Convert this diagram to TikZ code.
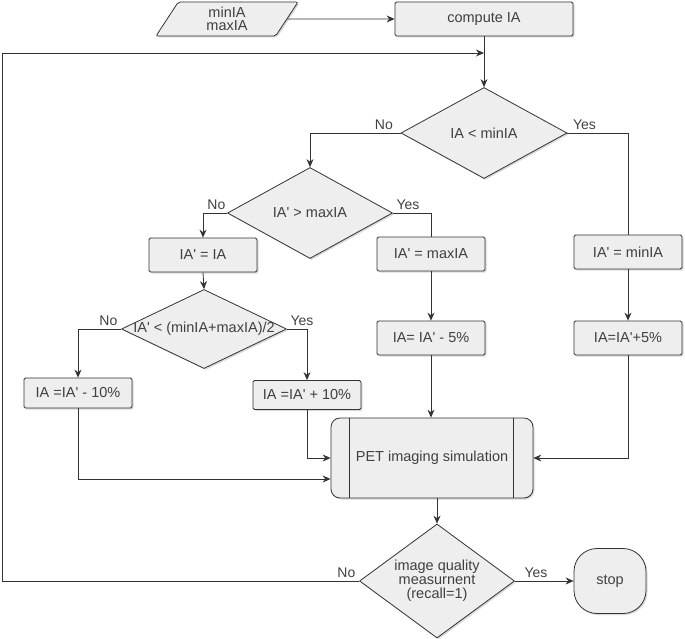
\documentclass[tikz,border=0pt]{standalone}
\usepackage{fontspec}
\setmainfont{Liberation Sans}
\usetikzlibrary{shapes.geometric,arrows.meta,shadows}

\definecolor{boxfill}{HTML}{EEEEEE}
\definecolor{linecol}{HTML}{333333}
\definecolor{txtcol}{HTML}{404040}

\tikzset{
  base/.style={draw=linecol, thick, fill=boxfill, text=txtcol,
    font=\fontsize{14.5}{16}\selectfont,
    drop shadow={shadow xshift=1.5pt, shadow yshift=-1.5pt, opacity=0.3}},
  proc/.style={base, rectangle, rounded corners=1.5pt, minimum width=108pt, minimum height=34pt},
  io/.style={base, trapezium, trapezium left angle=49, trapezium right angle=131,
    trapezium stretches body, rounded corners=2pt, minimum width=142pt, minimum height=34pt,
    align=center, inner sep=1pt},
  decide/.style={base, diamond, inner sep=0pt, align=center},
  term/.style={base, rectangle, rounded corners=23pt, minimum width=72pt, minimum height=65pt},
  flow/.style={draw=linecol, thick, -{Stealth[length=8pt,width=7pt]}},
  line/.style={draw=linecol, thick},
  lbl/.style={text=txtcol, font=\fontsize{14}{16}\selectfont}
}

% text of a diamond may run over its width
\newcommand{\dtext}[1]{\makebox[0pt]{#1}}
% straight prime
\newcommand{\pr}{\textquotesingle}

\begin{document}
\begin{tikzpicture}[x=1pt,y=1pt]

  \useasboundingbox (0,0) rectangle (685,-639);

  % Start
  \node[io] (input) at (227,-19) {minIA\\[-3pt]maxIA};
  \node[proc, minimum width=178pt] (compute) at (484,-19) {compute IA};

  % First test
  \node[decide, minimum width=166pt, minimum height=91pt] (lowtest) at (484,-133) {\dtext{IA < minIA}};
  \node[decide, minimum width=165pt, minimum height=91pt] (hightest) at (310,-213) {\dtext{IA\pr{} > maxIA}};

  % Clipping of IA
  \node[proc] (keep) at (203,-255) {IA\pr{} = IA};
  \node[proc] (setmax) at (431,-254) {IA\pr{} = maxIA};
  \node[proc] (setmin) at (628,-252) {IA\pr{} = minIA};

  % Middle test
  \node[decide, minimum width=165pt, minimum height=79pt] (midtest) at (204,-329) {\dtext{IA\pr{} < (minIA+maxIA)/2}};

  % Updates
  \node[proc, minimum height=30pt] (minusten) at (78,-393) {IA =IA\pr{} - 10\%};
  \node[proc, minimum height=29pt] (plusten) at (307,-395) {IA =IA\pr{} + 10\%};
  \node[proc] (minusfive) at (431,-338) {IA= IA\pr{} - 5\%};
  \node[proc] (plusfive) at (628,-338) {IA=IA\pr{}+5\%};

  % Simulation (process box with side bars)
  \node[base, rectangle, rounded corners=9pt, minimum width=202pt, minimum height=80pt] (pet) at (432,-458) {PET imaging simulation};
  \draw[line] ([xshift=19pt]pet.north west) -- ([xshift=19pt]pet.south west);
  \draw[line] ([xshift=-20pt]pet.north east) -- ([xshift=-20pt]pet.south east);

  % Quality test and end
  \node[decide, minimum width=155pt, minimum height=114pt] (quality) at (437,-581)
    {\dtext{\begin{tabular}{@{}c@{}}image quality\\[-2pt]measurnent\\[-2pt](recall=1)\end{tabular}}};
  \node[term] (stop) at (610,-581) {stop};

  % Loop back point
  \coordinate (back) at (484,-53);

  % Connectors
  \draw[flow] (input.east) -- (compute.west);
  \draw[flow] (compute.south) -- (lowtest.north);
  \draw[flow] (lowtest.west) node[lbl, above left, xshift=-4pt] {No} -| (hightest.north);
  \draw[line] (lowtest.east) node[lbl, above right, xshift=2pt] {Yes} -| (setmin.north);
  \draw[flow] (hightest.west) node[lbl, above left, xshift=2pt] {No} -| (keep.north);
  \draw[line] (hightest.east) node[lbl, above right] {Yes} -| (setmax.north);
  \draw[flow] (keep.south) -- (midtest.north);
  \draw[flow] (midtest.west) node[lbl, above left] {No} -| (minusten.north);
  \draw[flow] (midtest.east) node[lbl, above right] {Yes} -| (plusten.north);
  \draw[flow] (setmax.south) -- (minusfive.north);
  \draw[flow] (setmin.south) -- (plusfive.north);
  \draw[flow] (minusfive.south) -- (minusfive.south |- pet.north);
  \draw[flow] (plusten.south) |- (pet.west);
  \draw[flow] (minusten.south) |- ([yshift=-21pt]pet.west);
  \draw[flow] (plusfive.south) |- (pet.east);
  \draw[flow] (quality.north |- pet.south) -- (quality.north);
  \draw[flow] (quality.east) node[lbl, above right, xshift=6pt] {Yes} -- (stop.west);
  \draw[flow] (quality.west) node[lbl, above left] {No} -| (2,-53) -- (back);

\end{tikzpicture}
\end{document}
